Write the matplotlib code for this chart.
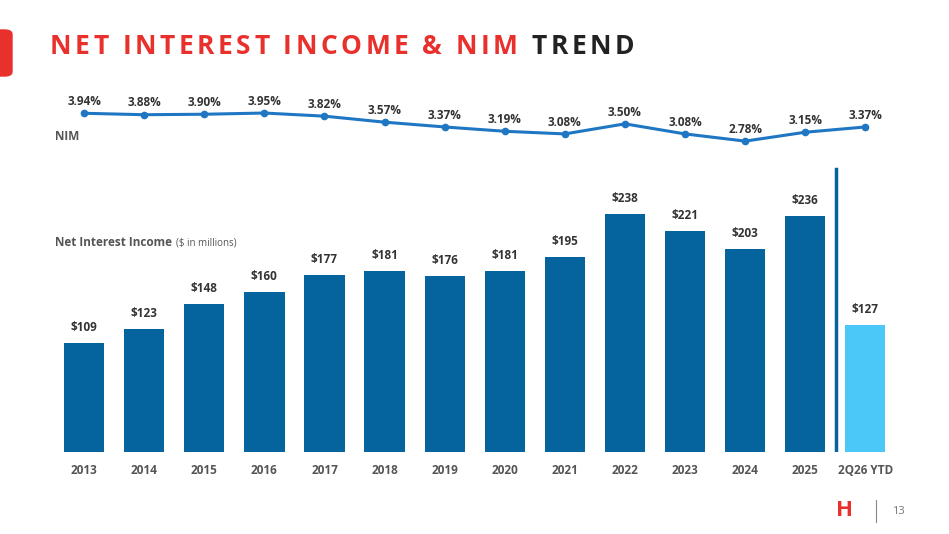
import matplotlib.pyplot as plt
from matplotlib.patches import FancyBboxPatch

years = ['2013', '2014', '2015', '2016', '2017', '2018', '2019', '2020',
         '2021', '2022', '2023', '2024', '2025', '2Q26 YTD']
nii = [109, 123, 148, 160, 177, 181, 176, 181, 195, 238, 221, 203, 236, 127]
nim = [3.94, 3.88, 3.90, 3.95, 3.82, 3.57, 3.37, 3.19, 3.08, 3.50, 3.08, 2.78, 3.15, 3.37]

W, H = 949, 534
fig = plt.figure(figsize=(W / 100, H / 100), dpi=100)
fig.patch.set_facecolor('white')
plt.rcParams['font.family'] = ['Open Sans', 'DejaVu Sans']

def px(x0, y0, x1, y1):
    # pixel box (top-left origin) -> figure fraction
    return [x0 / W, 1 - y1 / H, (x1 - x0) / W, (y1 - y0) / H]

# bars
ax = fig.add_axes(px(30, 160, 920, 452))
xs = list(range(len(years)))
colors = ['#05649e'] * 13 + ['#4cc8f8']
ax.bar(xs, nii, width=0.67, color=colors)
for x, v in zip(xs, nii):
    ax.text(x, v + 9, f'${v}', ha='center', va='bottom', fontsize=8.5,
            fontweight='bold', color='#333333')
ax.set_xlim(-0.9, 13.91)
ax.set_ylim(0, 292)
ax.axvline(12.51, ymin=0, ymax=0.97, color='#05649e', lw=2.5)
ax.set_xticks(xs)
ax.set_xticklabels(years, fontsize=8.5, fontweight='bold', color='#555555')
ax.tick_params(length=0, pad=9)
ax.set_yticks([])
for s in ax.spines.values():
    s.set_visible(False)
ax.patch.set_alpha(0)

# NIM line
ax2 = fig.add_axes(px(30, 60, 920, 180))
ax2.plot(xs, nim, color='#1f77c4', lw=2.2, marker='o', ms=4.5)
for x, v in zip(xs, nim):
    ax2.text(x, v + 0.22, f'{v:.2f}%', ha='center', va='bottom', fontsize=8.5,
             fontweight='bold', color='#333333')
ax2.set_xlim(-0.9, 13.91)
ax2.set_ylim(1.16, 6.16)
ax2.axis('off')

fig.text(55 / W, 1 - 136 / H, 'NIM', fontsize=8.5, fontweight='bold', color='#555555', va='center')
fig.text(55 / W, 1 - 243 / H, 'Net Interest Income', fontsize=8.5, fontweight='bold',
         color='#555555', va='center')
fig.text(176 / W, 1 - 243 / H, '($ in millions)', fontsize=7, color='#555555', va='center')

# title, drawn letter by letter for wide tracking
fig.canvas.draw()
r = fig.canvas.get_renderer()
x = 50
for part, col in [('NET INTEREST INCOME & NIM ', '#e8302c'), ('TREND', '#222222')]:
    for ch in part:
        if ch == ' ':
            x += 10
            continue
        t = fig.text(x / W, 1 - 47 / H, ch, fontsize=19, fontweight='bold',
                     color=col, va='center')
        x += t.get_window_extent(r).width + 3.6
fig.patches.append(FancyBboxPatch((-8 / W, 1 - 76 / H), 20 / W, 46 / H,
                                  boxstyle='round,pad=0,rounding_size=0.008',
                                  transform=fig.transFigure, color='#e8302c'))

# footer
fig.text(845 / W, 1 - 511 / H, 'H', fontsize=16, fontweight='bold', color='#e8302c',
         ha='center', va='center')
fig.add_artist(plt.Line2D([876 / W, 876 / W], [1 - 522 / H, 1 - 500 / H],
                          color='#888888', lw=0.8, transform=fig.transFigure))
fig.text(898 / W, 1 - 511 / H, '13', fontsize=8, color='#777777', ha='center', va='center')

fig.savefig('out.png', dpi=100)
